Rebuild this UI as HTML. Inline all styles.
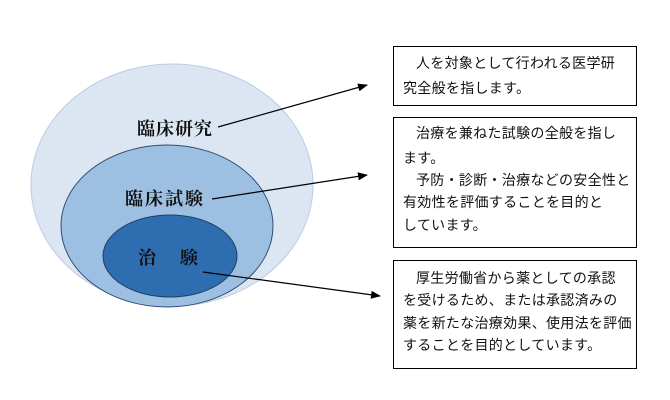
<!DOCTYPE html>
<html><head><meta charset="utf-8"><style>
body{margin:0;background:#fff}
svg{display:block}
.l{font-family:"Liberation Serif","Noto Serif CJK SC",serif;font-weight:bold;font-size:18px;fill:#111}
.t{font-family:"Liberation Sans","Noto Sans CJK JP",sans-serif;font-size:14px;letter-spacing:0.3px;fill:#111}
</style></head><body>
<svg width="670" height="400" viewBox="0 0 670 400" xmlns="http://www.w3.org/2000/svg">
<defs><marker id="a" markerWidth="10" markerHeight="8" refX="9" refY="4" orient="auto" markerUnits="userSpaceOnUse"><path d="M0,0 L10,4 L0,8 z" fill="#000"/></marker></defs>
<ellipse cx="172" cy="185" rx="141" ry="121" fill="#dce6f2" stroke="#b9cde5" stroke-width="1"/>
<ellipse cx="167" cy="226" rx="106" ry="81" fill="#9dc0e2" stroke="#2f4e74" stroke-width="1"/>
<ellipse cx="170" cy="256" rx="67" ry="41" fill="#2e6db0" stroke="#1f3f66" stroke-width="1"/>
<text class="l" x="137" y="135" letter-spacing="1">臨床研究</text>
<text class="l" x="125" y="205" letter-spacing="2">臨床試験</text>
<text class="l" x="138" y="264">治</text>
<text class="l" x="180" y="264">験</text>
<line x1="218" y1="127" x2="367" y2="85" stroke="#000" stroke-width="1.2" marker-end="url(#a)"/>
<line x1="212" y1="199" x2="367" y2="175" stroke="#000" stroke-width="1.2" marker-end="url(#a)"/>
<line x1="203" y1="272" x2="380" y2="296" stroke="#000" stroke-width="1.2" marker-end="url(#a)"/>
<rect x="393.5" y="46.5" width="243" height="59" fill="#fff" stroke="#000"/>
<rect x="393.5" y="117.5" width="243" height="130" fill="#fff" stroke="#000"/>
<rect x="393.5" y="260.5" width="243" height="108" fill="#fff" stroke="#000"/>
<g class="t">
<text x="416" y="68">人を対象として行われる医学研</text>
<text x="403" y="93">究全般を指します。</text>
<text x="416" y="138">治療を兼ねた試験の全般を指し</text>
<text x="403" y="163">ます。</text>
<text x="416" y="185">予防・診断・治療などの安全性と</text>
<text x="403" y="207">有効性を評価することを目的と</text>
<text x="403" y="230">しています。</text>
<text x="416" y="283">厚生労働省から薬としての承認</text>
<text x="403" y="305">を受けるため、または承認済みの</text>
<text x="403" y="328">薬を新たな治療効果、使用法を評価</text>
<text x="403" y="350">することを目的としています。</text>
</g>
</svg>
</body></html>
